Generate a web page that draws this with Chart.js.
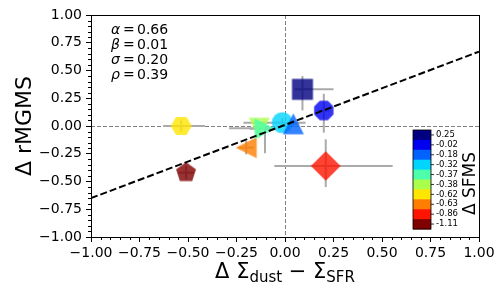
<!DOCTYPE html>
<html>
<head>
<meta charset="utf-8">
<script src="https://cdn.jsdelivr.net/npm/chart.js@4.4.0/dist/chart.umd.min.js"></script>
<style>
  html, body { margin: 0; padding: 0; background: #fff; }
  #wrap { width: 504px; height: 288px; }
</style>
</head>
<body>
<div id="wrap"><canvas id="c" width="504" height="288"></canvas></div>
<script>
// points, sorted by delta SFMS (ascending, so higher values sit on top)
const sfms   = [-1.11, -0.86, -0.63, -0.62, -0.38, -0.37, -0.32, -0.18, -0.02, 0.25];
const xVals  = [-0.51, 0.21, -0.20, -0.535, -0.133, -0.103, -0.014, 0.043, 0.20, 0.09];
const yVals  = [-0.42, -0.36, -0.195, 0.00, -0.02, -0.025, 0.03, 0.02, 0.14, 0.33];
const xErrLo = [0.04, 0.265, 0.04, 0.093, 0.155, 0.08, 0.20, 0.03, 0.03, 0.04];
const xErrHi = [0.04, 0.345, 0.04, 0.122, 0.08, 0.05, 0.12, 0.03, 0.03, 0.16];
const yErrLo = [0.06, 0.19, 0.06, 0.05, 0.03, 0.22, 0.04, 0.03, 0.20, 0.19];
const yErrHi = [0.06, 0.24, 0.06, 0.05, 0.03, 0.04, 0.04, 0.03, 0.15, 0.12];

// fit
const fitAlpha = 0.66, fitBeta = 0.01, fitSigma = 0.20, fitRho = 0.39;
const fitX = [-1, 1];

// styles
const shapes = ['p', 'D', '<', 'H', 'v', '>', 'o', '^', '8', 's'];
const colors = ['#800000', '#ff1400', '#ff7d00', '#ffe600', '#aaff4d',
                '#4dffaa', '#00d4ff', '#0063ff', '#0000f1', '#000080'];
const FONT = '"DejaVu Sans", sans-serif';

function poly(g, n, r, start){
    for(let k=0;k<n;k++){
        const t=start+k*2*Math.PI/n;
        const px=r*Math.cos(t), py=-r*Math.sin(t);
        if(k===0)g.moveTo(px,py);else g.lineTo(px,py);
    }
    g.closePath();
}

function marker(shape,color){
    const s=21, h=s/2, size=shape==='D'?32:24;
    const c=document.createElement('canvas');
    c.width=c.height=size;
    const g=c.getContext('2d');
    g.translate(size/2,size/2);
    g.globalAlpha=0.8;
    g.fillStyle=color;
    g.beginPath();
    switch(shape){
        case 's': g.rect(-h,-h,s,s); break;
        case 'D': poly(g,4,h*Math.SQRT2,Math.PI/2); break;
        case '^': g.moveTo(0,-h); g.lineTo(-h,h); g.lineTo(h,h); g.closePath(); break;
        case 'v': g.moveTo(0,h); g.lineTo(-h,-h); g.lineTo(h,-h); g.closePath(); break;
        case '<': g.moveTo(-h,0); g.lineTo(h,-h); g.lineTo(h,h); g.closePath(); break;
        case '>': g.moveTo(h,0); g.lineTo(-h,-h); g.lineTo(-h,h); g.closePath(); break;
        case 'o': g.arc(0,0,h,0,2*Math.PI); break;
        case 'p': poly(g,5,h,Math.PI/2); break;
        case 'H': poly(g,6,h,0); break;
        case '8': poly(g,8,h,Math.PI/8); break;
    }
    g.fill();
    return c;
}

const pointImgs=shapes.map((s,i)=>marker(s,colors[i]));

function seg(ctx,x1,y1,x2,y2){
    ctx.beginPath();ctx.moveTo(x1,y1);ctx.lineTo(x2,y2);ctx.stroke();
}

const overlay={
    id:'overlay',
    beforeDatasetsDraw(chart){
        const {ctx,chartArea:a,scales:{x,y}}=chart;
        ctx.save();
        ctx.strokeStyle='#808080';ctx.lineWidth=1;ctx.setLineDash([4,2]);
        const x0=Math.round(x.getPixelForValue(0))+0.5, y0=Math.round(y.getPixelForValue(0))+0.5;
        seg(ctx,x0,a.top,x0,a.bottom);
        seg(ctx,a.left,y0,a.right,y0);
        ctx.setLineDash([]);
        ctx.strokeStyle='#aaaaaa';ctx.lineWidth=2;
        xVals.forEach((v,i)=>{
            const px=x.getPixelForValue(v), py=y.getPixelForValue(yVals[i]);
            seg(ctx,x.getPixelForValue(v-xErrLo[i]),py,x.getPixelForValue(v+xErrHi[i]),py);
            seg(ctx,px,y.getPixelForValue(yVals[i]-yErrLo[i]),px,y.getPixelForValue(yVals[i]+yErrHi[i]));
        });
        ctx.restore();
    },
    afterDraw(chart){
        const {ctx,chartArea:a,scales:{x,y}}=chart;
        ctx.save();
        // frame
        ctx.strokeStyle='#000';ctx.lineWidth=1;
        ctx.strokeRect(Math.round(a.left)+0.5,Math.round(a.top)+0.5,Math.round(a.right-a.left),Math.round(a.bottom-a.top));
        // minor ticks
        for(let k=-20;k<=20;k++){
            if(k%5===0)continue;
            const px=Math.round(x.getPixelForValue(k/20))+0.5;
            seg(ctx,px,a.bottom,px,a.bottom+3);
            const py=Math.round(y.getPixelForValue(k/20))+0.5;
            seg(ctx,a.left-3,py,a.left,py);
        }
        // fit stats
        ctx.fillStyle='#000';ctx.textBaseline='alphabetic';ctx.textAlign='left';
        [['α',fitAlpha],['β',fitBeta],['σ',fitSigma],['ρ',fitRho]].forEach(([g,v],i)=>{
            const by=a.top+19+i*15;
            ctx.font='italic 14px '+FONT;ctx.fillText(g,a.left+20,by);
            ctx.font='14px '+FONT;
            ctx.fillText('=',a.left+32,by);
            ctx.fillText(v.toFixed(2),a.left+46,by);
        });
        // colorbar
        const cbL=a.right-66, cbT=a.top+115, cbW=18, cbH=99, n=sfms.length, bh=cbH/n;
        ctx.font='8.5px '+FONT;ctx.textBaseline='middle';
        for(let j=0;j<n;j++){
            const i=n-1-j;
            ctx.fillStyle=colors[i];
            ctx.fillRect(cbL,cbT+j*bh,cbW,bh+0.5);
            const cy=cbT+(j+0.5)*bh;
            ctx.strokeStyle='#000';ctx.lineWidth=0.8;
            seg(ctx,cbL+cbW,cy,cbL+cbW+3,cy);
            ctx.fillStyle='#000';
            ctx.fillText(sfms[i].toFixed(2),cbL+cbW+5,cy);
        }
        ctx.strokeStyle='#000';ctx.lineWidth=0.8;
        ctx.strokeRect(cbL,cbT,cbW,cbH);
        ctx.save();
        ctx.translate(a.right-8,cbT+cbH/2+4);ctx.rotate(-Math.PI/2);
        ctx.font='17px '+FONT;ctx.textAlign='center';ctx.textBaseline='middle';
        ctx.fillText('Δ SFMS',0,0);
        ctx.restore();
        // y title
        ctx.save();
        ctx.translate(25,(a.top+a.bottom)/2);ctx.rotate(-Math.PI/2);
        ctx.font='22px '+FONT;ctx.textAlign='center';ctx.textBaseline='middle';
        ctx.fillText('Δ rMGMS',0,0);
        ctx.restore();
        // x title with subscripts
        const parts=[['Δ Σ',0],['dust',1],[' − Σ',0],['SFR',1]];
        const fMain='21px '+FONT, fSub='15px '+FONT;
        let tw=0;
        parts.forEach(([t,s])=>{ctx.font=s?fSub:fMain;tw+=ctx.measureText(t).width;});
        let tx=(a.left+a.right)/2-tw/2;
        const base=a.bottom+41;
        ctx.textAlign='left';ctx.textBaseline='alphabetic';
        parts.forEach(([t,s])=>{
            ctx.font=s?fSub:fMain;
            ctx.fillText(t,tx,s?base+4:base);
            tx+=ctx.measureText(t).width;
        });
        ctx.restore();
    }
};

const fmt=v=>Math.abs(v)<1e-9?'0.00':v.toFixed(2).replace('-','−');

new Chart(document.getElementById('c').getContext('2d'),{
    type:'scatter',
    data:{
        datasets:[
            {
                type:'line',
                data:fitX.map(v=>({x:v,y:fitAlpha*v+fitBeta})),
                borderColor:'#000',borderWidth:2,borderDash:[7,3],
                pointRadius:0,showLine:true,fill:false,order:0
            },
            {
                data:xVals.map((v,i)=>({x:v,y:yVals[i]})),
                pointStyle:pointImgs,pointRadius:10,order:1
            }
        ]
    },
    options:{
        responsive:false,animation:false,
        events:[],
        layout:{padding:{left:0,top:15,right:25,bottom:0}},
        plugins:{legend:{display:false},tooltip:{enabled:false}},
        scales:{
            x:{
                min:-1,max:1,
                afterFit:s=>{s.height=51;},
                border:{display:false},
                grid:{drawOnChartArea:false,drawTicks:true,tickLength:5,color:'#000'},
                ticks:{stepSize:0.25,padding:3,color:'#000',font:{family:'DejaVu Sans',size:14},
                    maxRotation:0,autoSkip:false,callback:fmt}
            },
            y:{
                min:-1,max:1,
                afterFit:s=>{s.width=91;},
                border:{display:false},
                grid:{drawOnChartArea:false,drawTicks:true,tickLength:5,color:'#000'},
                ticks:{stepSize:0.25,padding:4,color:'#000',font:{family:'DejaVu Sans',size:14},
                    autoSkip:false,callback:fmt}
            }
        }
    },
    plugins:[overlay]
});
</script>
</body>
</html>
